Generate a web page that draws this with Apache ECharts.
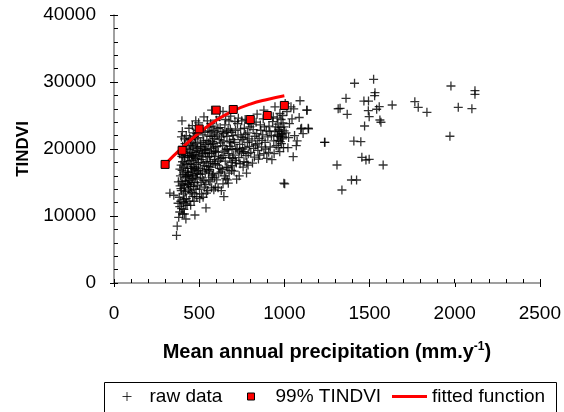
<!DOCTYPE html>
<html><head><meta charset="utf-8">
<script src="https://cdn.jsdelivr.net/npm/echarts@6/dist/echarts.min.js"></script>
<style>html,body{margin:0;padding:0;background:#fff}#c{width:564px;height:412px}</style>
</head><body><div id="c"></div>
<script>
// raw data points [precipitation, TINDVI]
const rawData = [
[328,13400],[351,13100],[367,7100],[371,8500],[380,9800],[386,11400],[386,10600],[392,12200],[395,13800],[398,15200],[400,16800],[402,18100],[405,19600],[388,14500],[383,12800],[376,11900],[410,11000],[412,12500],[415,14200],[418,15800],[409,17300],[403,20400],[396,21800],[415,19000],[420,16600],[390,16000],[378,15100],[407,13300],[413,10300],[397,11100],[422,9550],[419,13600],[404,14800],[394,17600],[411,18700],[417,20800],[401,22600],[384,19300],[399,24200],[408,12000],[416,17900],[393,14100],[406,16200],[421,11800],[387,17000],[414,21500],[403,10300],[419,15200],[398,18900],[411,14600],
[425,12600],[430,14800],[435,16500],[440,18200],[445,19900],[450,21400],[455,13500],[460,15600],[465,17400],[470,19200],[475,10150],[480,20800],[485,22300],[490,16300],[495,18000],[428,20100],[433,17100],[438,13900],[443,15300],[448,17800],[452,19500],[457,21000],[462,12900],[467,14400],[472,16900],[477,18600],[482,14000],[487,19800],[492,21700],[497,23900],[426,15900],[431,18800],[436,21200],[441,12200],[446,13700],[451,16000],[456,18300],[461,20300],[466,22400],[471,15000],[476,17200],[481,19500],[486,12900],[491,14600],[496,16800],[424,22000],[429,11600],[434,19300],[439,16000],[444,21600],[449,14400],[454,17100],[459,19000],[464,16100],[469,20600],[474,13300],[479,15800],[484,17700],[489,20100],[494,22800],[427,17700],[437,14700],[447,20500],[458,16700],[468,18700],[478,21500],[488,15500],[498,19600],[432,16200],[442,19000],[453,15000],[463,18900],[473,21900],[483,16400],[493,18500],[440,23100],[460,23500],[480,24200],[470,12200],[450,11600],
[502,14000],[507,16200],[512,18400],[517,20300],[522,22100],[527,15300],[532,17500],[537,19400],[540,11200],[545,21300],[550,13800],[555,16600],[560,18900],[565,20700],[570,22600],[575,15800],[580,17800],[585,19700],[590,21600],[595,14300],[504,19100],[509,21000],[514,13300],[519,15700],[524,17900],[529,20000],[534,22500],[539,14700],[544,16900],[549,18800],[554,20900],[559,23300],[564,15100],[569,17300],[574,19300],[579,21100],[584,16300],[589,18400],[594,20300],[599,22400],[506,17100],[516,18900],[526,21200],[536,16400],[546,19900],[556,15400],[566,18100],[576,21900],[586,13900],[596,17800],[511,15000],[521,19300],[531,14300],[541,18100],[551,22700],[561,16900],[571,20100],[581,23400],[591,15700],[503,12600],[513,22900],[523,12800],[533,19800],[543,13400],[553,17400],[563,21900],[573,14200],[583,20800],[593,18900],[528,24800],[548,24200],[568,23800],[518,16700],[538,20700],[558,19400],[578,16100],[598,19600],[508,20400],[588,22800],[573,25800],
[603,15400],[608,17600],[613,19500],[618,21400],[623,23200],[628,16600],[633,18700],[638,20500],[643,22300],[645,12900],[648,16000],[653,18200],[658,20000],[663,21900],[668,17200],[673,19300],[678,21100],[683,23000],[688,18000],[693,20000],[698,22000],[605,20400],[615,16400],[625,18600],[635,22600],[640,14800],[650,19700],[660,17300],[670,22800],[680,18700],[690,16800],[606,22100],[616,18200],[626,20900],[636,16900],[646,21200],[656,15600],[666,19900],[676,16400],[686,20900],[696,18600],[611,14200],[621,17100],[631,21800],[641,19000],[651,23600],[661,22500],[671,14900],[681,20400],[691,22500],[601,24300],[620,24800],[655,24400],[685,24900],[610,23100],[630,13800],[665,15400],[695,17500],[675,24200],[640,25600],
[703,19100],[708,21000],[713,22800],[718,17900],[723,20100],[728,22100],[733,18700],[738,20700],[743,23000],[748,19400],[753,21400],[758,17300],[763,18100],[768,20200],[773,22200],[778,16400],[783,21000],[788,19300],[793,21500],[798,23300],[705,16700],[715,19900],[725,23800],[735,16000],[745,21800],[755,20000],[765,23100],[775,19000],[785,22400],[795,20400],[710,24100],[730,24600],[750,24200],[770,24400],[790,23900],[720,15500],[740,17800],[760,19600],[780,18000],[700,21400],[712,18300],[737,19700],[762,21700],[787,17600],
[803,19500],[810,21200],[817,22900],[824,18800],[831,20600],[838,22300],[845,19800],[852,21600],[859,23600],[866,20300],[873,22100],[880,19300],[887,21000],[894,22700],[806,23700],[820,20100],[834,24000],[848,18500],[862,22800],[876,24500],[890,20000],[813,17900],[827,21900],[841,20800],[855,19100],[869,21300],[883,23300],[897,18600],[840,25200],[880,25800],
[903,21800],[910,23400],[917,20300],[924,22000],[927,18400],[931,24100],[938,21200],[945,22700],[945,26300],[952,20500],[958,22100],[962,23700],[966,21300],[970,22600],[973,19600],[977,21800],[980,23200],[983,20800],[986,22300],[989,21500],[992,23900],[995,20200],[997,14900],[999,22700],[958,24600],[974,25300],[990,25000],[960,21900],[968,22900],[976,21100],[984,22100],[992,21800],[998,23300],[964,20200],[981,24400],[908,19500],[935,24800],[950,23300],[915,22600],[940,19300],
[1002,14800],[1021,20200],[1052,18850],[1075,21200],[1087,24700],[1092,27200],[1096,23000],[1134,25800],[1142,23000],[1131,25800],[1039,26300],[1101,23100],[1140,23100],[1010,22400],[1030,23800],[1015,25600],[1060,22000],[1045,24500],[1070,20500],[1005,26800],[1025,21700],[1110,22300],[1055,26000],[1238,21000],
[1236,21000],[1309,17610],[1338,13880],[1394,15370],[1424,15370],[1455,18760],[1479,18360],[1498,18460],[1580,17610],[1408,21190],[1449,21090],[1471,23430],[1498,24820],[1493,25720],[1542,25930],[1561,24330],[1567,23990],[1557,26310],[1530,27960],[1532,28400],[1524,30400],[1412,29810],[1362,27570],[1327,26070],[1369,25180],[1467,27160],[1494,27160],[1633,26570],[1766,27060],[1786,26220],[1837,25480],[1978,29400],[2021,26220],[1972,21900],[2101,26020],[2119,28700],[2119,28160],[1316,26010]
];
// 99% TINDVI points
const pctX = [300, 400, 500, 600, 700, 800, 900, 1000];
const pctY = [17700, 19800, 23000, 25800, 25900, 24400, 25000, 26500];
// fitted function
const fitX = [300, 400, 500, 600, 700, 800, 900, 1000];
const fitY = [17700, 20200, 22400, 24300, 25700, 26700, 27400, 27950];

const xTicks = [0, 500, 1000, 1500, 2000, 2500];
const yTicks = [0, 10000, 20000, 30000, 40000];

const FONT = '"Liberation Sans", Arial, sans-serif';
const plusPath = 'path://M0,5L10,5M5,0L5,10';

const chart = echarts.init(document.getElementById('c'), null, {renderer: 'canvas'});
const gridRect = {left: 114, right: 24, top: 15, bottom: 129, containLabel: false};
const axisCommon = {
  splitLine: {show: false},
  minorSplitLine: {show: false}
};
const plainNum = v => String(v);
const legendText = {fontFamily: FONT, fontSize: 19, color: '#000'};
chart.setOption({
  animation: false,
  backgroundColor: '#fff',
  grid: [Object.assign({}, gridRect), Object.assign({}, gridRect)],
  graphic: [{
    type: 'rect', left: 102, top: 380, silent: true,
    shape: {width: 452, height: 40},
    style: {fill: 'none', stroke: '#000', lineWidth: 1}
  }],
  xAxis: [
    Object.assign({
      type: 'value', gridIndex: 0, min: xTicks[0], max: xTicks[xTicks.length - 1], interval: 500,
      name: 'Mean annual precipitation (mm.y{sup|-1})', nameLocation: 'middle', nameGap: 58,
      nameTextStyle: {fontFamily: FONT, fontSize: 20, fontWeight: 'bold', color: '#000',
        rich: {sup: {fontFamily: FONT, fontSize: 12, fontWeight: 'bold', color: '#000', verticalAlign: 'bottom', padding: [0, 0, 10, 0]}}},
      axisLine: {show: true, onZero: false, lineStyle: {color: '#808080', width: 1.5}},
      axisTick: {show: true, inside: true, length: 4, lineStyle: {color: '#000', width: 1}},
      minorTick: {show: true, splitNumber: 5, length: 4, lineStyle: {color: '#000', width: 1}},
      axisLabel: {fontFamily: FONT, fontSize: 19, color: '#000', margin: 21, formatter: plainNum}
    }, axisCommon),
    Object.assign({
      type: 'value', gridIndex: 1, min: xTicks[0], max: xTicks[xTicks.length - 1], interval: 500,
      axisLine: {show: false},
      axisTick: {show: true, inside: false, length: 4, lineStyle: {color: '#000', width: 1}},
      axisLabel: {show: false}
    }, axisCommon)
  ],
  yAxis: [
    Object.assign({
      type: 'value', gridIndex: 0, min: yTicks[0], max: yTicks[yTicks.length - 1], interval: 10000,
      name: 'TINDVI', nameLocation: 'middle', nameGap: 81,
      nameTextStyle: {fontFamily: FONT, fontSize: 17, fontWeight: 'bold', color: '#000'},
      axisLine: {show: true, onZero: false, lineStyle: {color: '#808080', width: 1.5}},
      axisTick: {show: true, inside: true, length: 4, lineStyle: {color: '#000', width: 1}},
      minorTick: {show: true, splitNumber: 5, length: 4, lineStyle: {color: '#000', width: 1}},
      axisLabel: {fontFamily: FONT, fontSize: 19, color: '#000', margin: 18, formatter: plainNum}
    }, axisCommon),
    Object.assign({
      type: 'value', gridIndex: 1, min: yTicks[0], max: yTicks[yTicks.length - 1], interval: 10000,
      axisLine: {show: false},
      axisTick: {show: true, inside: false, length: 4, lineStyle: {color: '#000', width: 1}},
      axisLabel: {show: false}
    }, axisCommon)
  ],
  legend: [
    {
      top: 387, left: 122, padding: 0,
      itemWidth: 9, itemHeight: 9, itemGap: 0,
      textStyle: Object.assign({padding: [0, 0, 0, 13]}, legendText),
      data: [{name: 'raw data', icon: plusPath, itemStyle: {color: 'transparent', borderColor: '#000', borderWidth: 1}}]
    },
    {
      top: 387, left: 247, padding: 0,
      itemWidth: 7, itemHeight: 7, itemGap: 0,
      textStyle: Object.assign({padding: [0, 0, 0, 16]}, legendText),
      data: [{name: '99% TINDVI', icon: 'rect', itemStyle: {color: '#ff0000', borderColor: '#000', borderWidth: 1}}]
    },
    {
      top: 387, left: 392, padding: 0,
      itemWidth: 35, itemHeight: 3, itemGap: 0,
      textStyle: legendText,
      data: [{name: 'fitted function', icon: 'rect', itemStyle: {color: '#ff0000', borderWidth: 0}}]
    }
  ],
  series: [
    {
      name: 'raw data', type: 'scatter', xAxisIndex: 0, yAxisIndex: 0,
      symbol: plusPath, symbolSize: 9,
      itemStyle: {color: 'transparent', borderColor: '#000', borderWidth: 1.3},
      data: rawData, z: 1
    },
    {
      name: 'fitted function', type: 'line', xAxisIndex: 0, yAxisIndex: 0,
      smooth: true, showSymbol: false, symbol: 'none',
      lineStyle: {color: '#ff0000', width: 3},
      itemStyle: {color: '#ff0000'},
      data: fitX.map((x, i) => [x, fitY[i]]), z: 2
    },
    {
      name: '99% TINDVI', type: 'scatter', xAxisIndex: 0, yAxisIndex: 0,
      symbol: 'rect', symbolSize: 8,
      itemStyle: {color: '#ff0000', borderColor: '#000', borderWidth: 1, opacity: 1},
      data: pctX.map((x, i) => [x, pctY[i]]), z: 3
    }
  ]
});
</script>
</body></html>
